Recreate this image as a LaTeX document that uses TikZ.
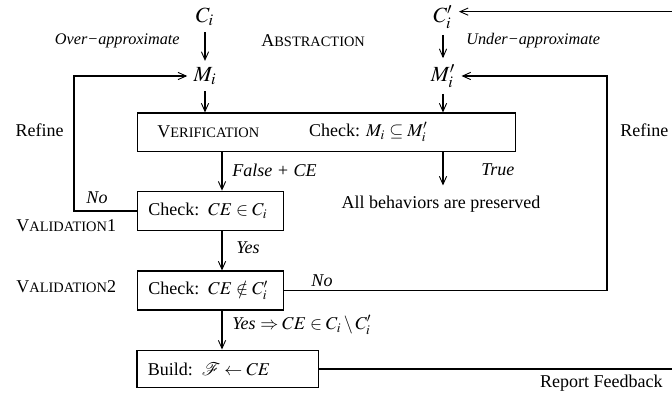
\documentclass[tikz,border=0pt]{standalone}
\usepackage{mathptmx}
\usepackage[no-math]{fontspec}
\setmainfont{Liberation Serif}
\usetikzlibrary{calc,arrows.meta}
\newcommand{\fakesc}[2]{#1{\footnotesize #2}}
\tikzset{
  flow/.style = { line width=0.6pt, -{Straight Barb[length=4.5pt,width=4pt,line width=0.5pt]} },
  box/.style  = { draw, line width=0.6pt, inner xsep=6pt, align=left },
  lbl/.style  = { font=\itshape },
  big/.style  = { font=\large }
}
\begin{document}
\begin{tikzpicture}[x=0.555pt, y=-0.555pt]
  \useasboundingbox (0,0) rectangle (672,395);
  % models
  \node [big] (ci) at (205,17) { $C_i$ };
  \node [big] (mi) at (205,76) { $M_i$ };
  \node [big] (cip) at (443,17) { $C_i'$ };
  \node [big] (mip) at (443,76) { $M_i'$ };
  \node [ lbl, font=\small\itshape, anchor=east ] (over) at (186,41) { Over−approximate };
  \node [ anchor=west ] (abstr) at (255,41) { \fakesc{A}{BSTRACTION} };
  \node [ lbl, font=\small\itshape, anchor=west ] (under) at (460,41) { Under−approximate };

  % boxes
  \node [ box, minimum width=210pt, minimum height=21.6pt ] (verif) at (326.5,132.5) {};
  \node [ anchor=west ] (veriftxt) at (151,132) { \fakesc{V}{ERIFICATION} };
  \node [ anchor=east ] (verifchk) at (434,132) { Check: $M_i \subseteq M_i'$ };
  \node [ box, text width=69pt, minimum height=22pt ] (chkone) at (210.5,211) { Check: $CE \in C_i$ };
  \node [ box, text width=69pt, minimum height=21.6pt ] (chktwo) at (210.5,290.5) { Check: $CE \notin C_i'$ };
  \node [ box, text width=88.5pt, minimum height=21pt ] (build) at (227.5,369) { Build: $\mathcal{F} \leftarrow CE$ };
  \node (alltrue) at (441,204) { All behaviors are preserved };

  % side labels
  \node [ anchor=east ] (refl) at (70,130) { Refine };
  \node [ anchor=west ] (refr) at (614,130) { Refine };
  \node [ anchor=west ] (valone) at (10,226) { \fakesc{V}{ALIDATION}1 };
  \node [ anchor=west ] (valtwo) at (10,287) { \fakesc{V}{ALIDATION}2 };
  \node [ anchor=east ] (report) at (669,383) { Report Feedback };
  \node [ lbl ] (noone) at (97,198) { No };
  \node [ lbl ] (notwo) at (322,281) { No };
  \node [ lbl, anchor=west ] (falsece) at (226,170) { False + CE };
  \node [ lbl, anchor=west ] (truelbl) at (475,170) { True };
  \node [ lbl, anchor=west ] (yesone) at (230,248) { Yes };
  \node [ anchor=west ] (yestwo) at (226,325) { \textit{Yes} $\Rightarrow CE \in C_i \setminus C_i'$ };

  \coordinate (spine) at (222,0);
  \coordinate (fbk) at (674,0);
  \coordinate (fbkin) at ($(cip.east)!0.3!(cip.north east)$);

  % connectors
  \draw [ flow ] (ci) -- (mi);
  \draw [ flow ] (cip) -- (mip);
  \draw [ flow ] (mi) -- (mi |- verif.north);
  \draw [ flow ] (mip) -- (mip |- verif.north);
  \draw [ flow ] (verif.south -| spine) -- (chkone.north -| spine);
  \draw [ flow ] (chkone.south -| spine) -- (chktwo.north -| spine);
  \draw [ flow ] (chktwo.south -| spine) -- (build.north -| spine);
  \draw [ flow ] (verif.south -| mip) -- ++(0,33);
  \draw [ flow ] (chkone.west) -- ++(-63,0) |- (mi.west);
  \draw [ flow ] (chktwo.east) -- ++(323,0) |- (mip.east);
  \draw [ flow ] (build.east) -| (fbkin -| fbk) -- (fbkin);
\end{tikzpicture}
\end{document}
